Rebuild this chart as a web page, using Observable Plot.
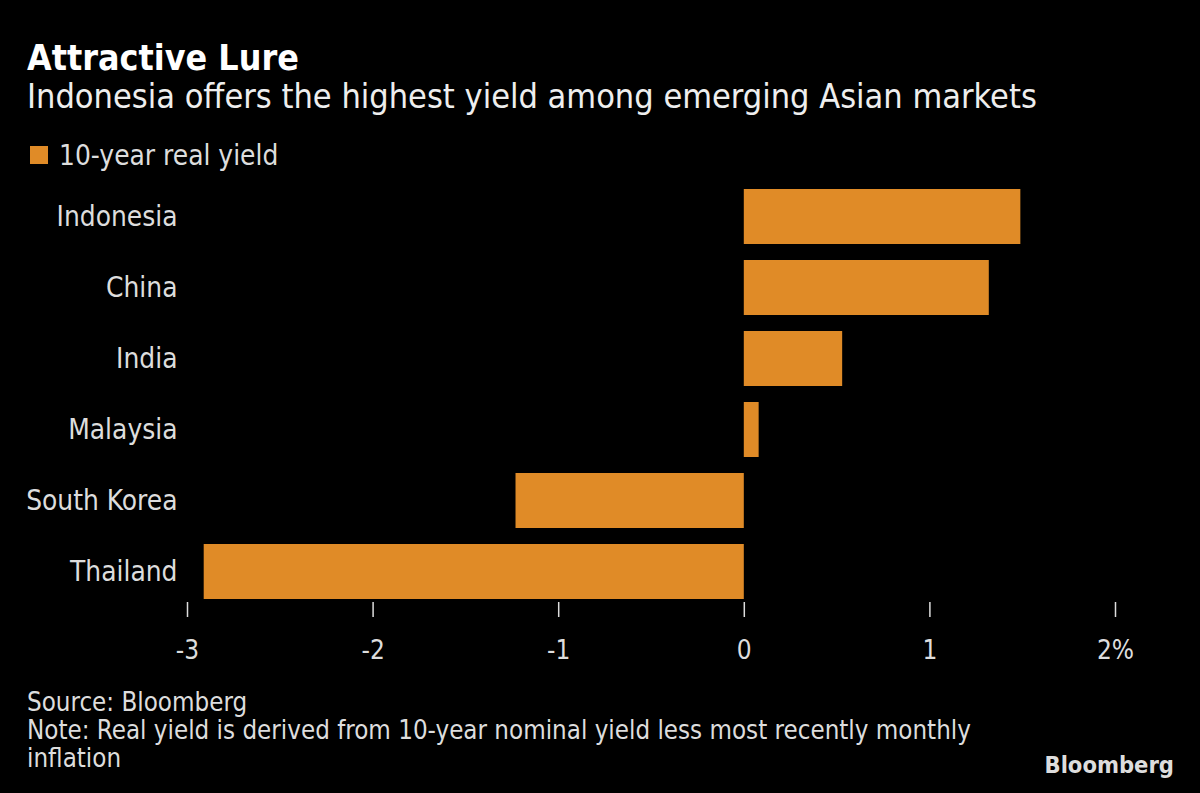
<!DOCTYPE html>
<html>
<head>
<meta charset="utf-8">
<script src="https://cdn.jsdelivr.net/npm/d3@7"></script>
<script src="https://cdn.jsdelivr.net/npm/@observablehq/plot@0.6"></script>
<style>
  html, body { margin: 0; padding: 0; background: #000; }
  #wrap { position: relative; width: 1200px; height: 793px; background: #000; overflow: hidden;
          font-family: "DejaVu Sans Condensed", "DejaVu Sans", sans-serif; color: #e0e0e0; }
  .abs { position: absolute; white-space: nowrap; line-height: 1; }
  #title { left: 27px; top: 40px; font-size: 35.5px; font-weight: bold; color: #fff; }
  #subtitle { left: 27px; top: 79px; font-size: 34px; color: #eee; }
  #legsw { left: 30px; top: 146px; width: 18px; height: 18px; background: #E08B27; }
  #legtxt { left: 59px; top: 142px; font-size: 27.8px; color: #ddd; }
  #chart { left: 0; top: 180px; }
  #caption { left: 27px; top: 688px; font-size: 25.7px; line-height: 28px; color: #ddd; }
  #logo { right: 26px; top: 754px; font-family: "Liberation Sans Narrow", "DejaVu Sans Condensed", sans-serif; font-weight: bold; font-size: 23.5px; color: #ddd; }
</style>
</head>
<body>
<div id="wrap">
  <div id="title" class="abs">Attractive Lure</div>
  <div id="subtitle" class="abs">Indonesia offers the highest yield among emerging Asian markets</div>
  <div id="legsw" class="abs"></div>
  <div id="legtxt" class="abs">10-year real yield</div>
  <div id="chart" class="abs"></div>
  <div id="caption" class="abs">Source: Bloomberg<br>Note: Real yield is derived from 10-year nominal yield less most recently monthly<br>inflation</div>
  <div id="logo" class="abs">Bloomberg</div>
</div>
<script>
const countries = ["Indonesia", "China", "India", "Malaysia", "South Korea", "Thailand"];
const realYield = [1.49, 1.32, 0.53, 0.08, -1.23, -2.91];
const xTicks = [-3, -2, -1, 0, 1, 2];
const xTickLabels = ["-3", "-2", "-1", "0", "1", "2%"];
const barColor = "#E08B27";

const data = countries.map((c, i) => ({country: c, value: realYield[i]}));

const chart = Plot.plot({
  width: 1200,
  height: 500,
  marginTop: 6,
  marginBottom: 78,
  marginLeft: 187,
  marginRight: 85,
  style: {background: "transparent", color: "#ddd", fontFamily: "'DejaVu Sans Condensed', 'DejaVu Sans', sans-serif"},
  x: {domain: [-3, 2]},
  y: {domain: countries, paddingInner: 0.22, paddingOuter: 0},
  marks: [
    Plot.barX(data, {x: "value", y: "country", fill: barColor}),
    Plot.axisX({ticks: xTicks, tickFormat: d => xTickLabels[xTicks.indexOf(d)], tickSize: 15, tickPadding: 23, fontSize: 26, stroke: "#ddd", strokeWidth: 1.5, fill: "#ddd", label: null}),
    Plot.axisY({tickSize: 0, tickPadding: 10, fontSize: 27.8, fill: "#ddd", label: null})
  ]
});
document.getElementById("chart").appendChild(chart);
</script>
</body>
</html>
